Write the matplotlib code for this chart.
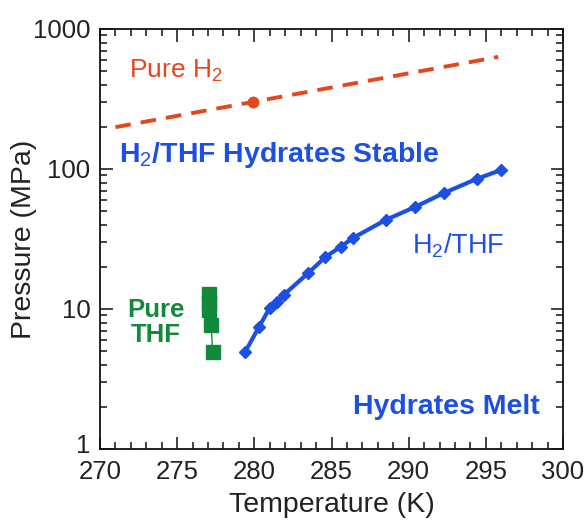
import matplotlib
matplotlib.use("Agg")
import matplotlib.pyplot as plt
import matplotlib.transforms as mtransforms
from matplotlib.ticker import MultipleLocator, LogLocator, FixedLocator, NullFormatter

plt.rcParams['font.family'] = ['Liberation Sans', 'DejaVu Sans']
plt.rcParams['mathtext.fontset'] = 'custom'
plt.rcParams['mathtext.rm'] = 'Liberation Sans'
plt.rcParams['mathtext.bf'] = 'Liberation Sans:bold'

# Data
h2thf_T = [279.4, 280.3, 281.0, 281.5, 281.9, 283.5, 284.6, 285.6, 286.4, 288.5, 290.4, 292.3, 294.4, 296.0]
h2thf_P = [4.93, 7.44, 10.2, 11.2, 12.6, 18.1, 23.5, 27.8, 32.2, 43.2, 53.5, 67.5, 84.9, 98.5]

thf_T = [277.05, 277.05, 277.05, 277.2, 277.3]
thf_P = [12.8, 11.2, 9.9, 7.7, 4.93]

h2_line_T = [271.0, 295.8]
h2_line_P = [199.0, 632.0]
h2_point_T = [279.9]
h2_point_P = [301.0]

xticks = [270, 275, 280, 285, 290, 295, 300]
yticks = [1, 10, 100, 1000]
ytick_labels = ['1', '10', '100', '1000']

BLUE = '#1c4fe4'
RED = '#e6461c'
GREEN = '#13893c'

fig = plt.figure(figsize=(5.86, 5.21), dpi=100)
ax = fig.add_axes([100/586, 1-449/521, 463/586, 420/521])

ax.plot(h2_line_T, h2_line_P, color=RED, lw=2.8, dashes=(4.0, 2.6))
ax.plot(h2_point_T, h2_point_P, 'o', color=RED, ms=7.5)

ax.plot(h2thf_T, h2thf_P, '-D', color=BLUE, lw=3.0, ms=6.5)

ax.plot(thf_T, thf_P, '-s', color=GREEN, lw=1.0, ms=10)

ax.set_yscale('log')
ax.set_xlim(270, 300)
ax.set_ylim(1, 1000)

ax.xaxis.set_major_locator(FixedLocator(xticks))
ax.xaxis.set_minor_locator(MultipleLocator(1))
ax.yaxis.set_major_locator(FixedLocator(yticks))
ax.set_yticklabels(ytick_labels)
ax.yaxis.set_minor_locator(LogLocator(base=10, subs=range(2, 10)))
ax.yaxis.set_minor_formatter(NullFormatter())

ax.tick_params(which='both', direction='in', top=True, right=True, width=1.2, colors='#222222')
ax.tick_params(axis='x', which='major', length=9, pad=8, labelsize=18.5)
ax.tick_params(axis='y', which='major', length=9, pad=7, labelsize=18.5)
ax.tick_params(which='minor', length=5)
for s in ax.spines.values():
    s.set_linewidth(1.3)
    s.set_color('#111111')

# nudge the lowest y tick label up slightly so it doesn't collide with "270"
for lab in ax.get_yticklabels():
    if lab.get_text() == '1':
        lab.set_transform(lab.get_transform() + mtransforms.ScaledTranslation(0, 4/72, fig.dpi_scale_trans))

ax.set_xlabel('Temperature (K)', fontsize=20.5, color='#222222', labelpad=6)
ax.set_ylabel('Pressure (MPa)', fontsize=20.5, color='#222222', labelpad=-3)

ax.text(271.9, 500, 'Pure H$_2$', color=RED, fontsize=19, va='center', ha='left')
ax.text(271.2, 125, 'H$_2$/THF Hydrates Stable', color=BLUE, fontsize=20.5, fontweight='bold', va='center', ha='left')
ax.text(290.2, 28.5, 'H$_2$/THF', color=BLUE, fontsize=19.5, va='center', ha='left')
ax.text(273.6, 8.0, 'Pure\nTHF', color=GREEN, fontsize=18.5, fontweight='bold', va='center', ha='center', linespacing=1.05)
ax.text(298.5, 2.0, 'Hydrates Melt', color=BLUE, fontsize=20.5, fontweight='bold', va='center', ha='right')

fig.savefig('out.png', dpi=100)
